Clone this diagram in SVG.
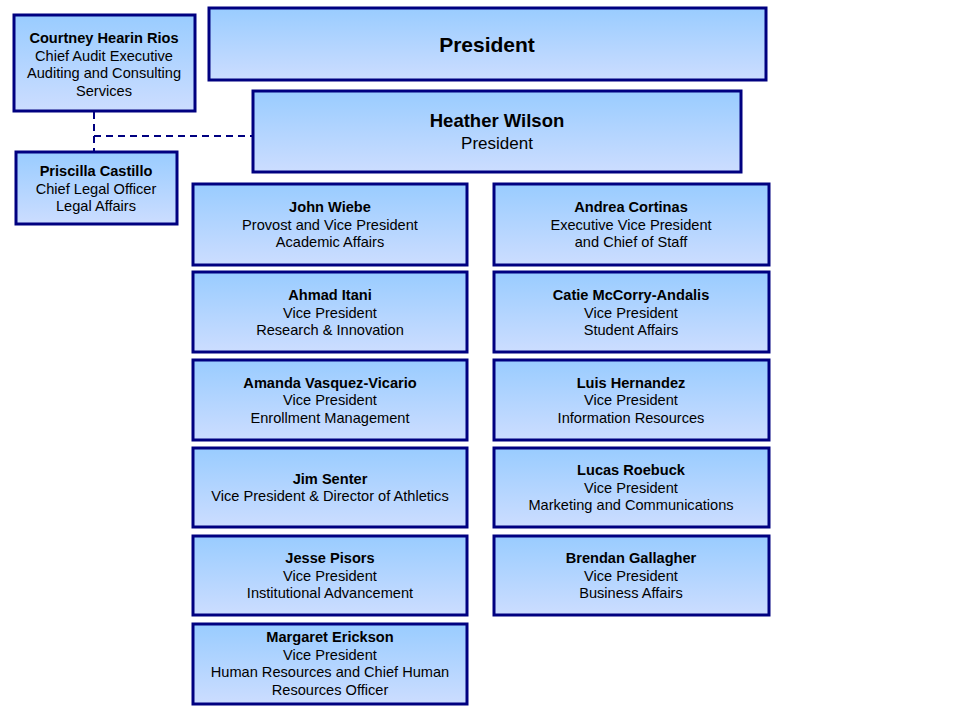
<svg xmlns="http://www.w3.org/2000/svg" width="960" height="720" viewBox="0 0 960 720">
<defs>
<linearGradient id="g" x1="0" y1="0" x2="0" y2="1">
<stop offset="0" stop-color="#99ccff"/>
<stop offset="1" stop-color="#ccddff"/>
</linearGradient>
<style>
.box{fill:url(#g);stroke:#000080;stroke-width:3}
text{font-family:"Liberation Sans",Arial,sans-serif;font-size:14.6px;fill:#000;text-anchor:middle}
.b{font-weight:bold}
.con{stroke:#000080;stroke-width:2;stroke-dasharray:7,5;fill:none}
</style>
</defs>
<rect width="960" height="720" fill="#fff"/>
<g id="connectors">
<path class="con" d="M94 112 V151"/>
<path class="con" d="M94 136 H253"/>
</g>
<g id="president-title">
<rect class="box" x="209" y="8" width="557" height="72"/>
<text x="487" y="52" class="b" style="font-size:21px">President</text>
</g>
<g id="heather-wilson">
<rect class="box" x="253" y="91" width="488" height="81"/>
<text x="497" y="127" class="b" style="font-size:18.5px">Heather Wilson</text>
<text x="497" y="149" style="font-size:17px">President</text>
</g>
<g id="courtney-hearin-rios">
<rect class="box" x="14" y="15" width="181" height="96"/>
<text x="104" y="43" class="b">Courtney Hearin Rios</text>
<text x="104" y="61">Chief Audit Executive</text>
<text x="104" y="78">Auditing and Consulting</text>
<text x="104" y="96">Services</text>
</g>
<g id="priscilla-castillo">
<rect class="box" x="16" y="152" width="161" height="72"/>
<text x="96" y="176" class="b">Priscilla Castillo</text>
<text x="96" y="194">Chief Legal Officer</text>
<text x="96" y="211">Legal Affairs</text>
</g>
<g id="john-wiebe">
<rect class="box" x="193" y="184" width="274" height="81"/>
<text x="330" y="212" class="b">John Wiebe</text>
<text x="330" y="230">Provost and Vice President</text>
<text x="330" y="247">Academic Affairs</text>
</g>
<g id="ahmad-itani">
<rect class="box" x="193" y="272" width="274" height="80"/>
<text x="330" y="300" class="b">Ahmad Itani</text>
<text x="330" y="318">Vice President</text>
<text x="330" y="335">Research &amp; Innovation</text>
</g>
<g id="amanda-vasquez-vicario">
<rect class="box" x="193" y="360" width="274" height="80"/>
<text x="330" y="388" class="b">Amanda Vasquez-Vicario</text>
<text x="330" y="405">Vice President</text>
<text x="330" y="423">Enrollment Management</text>
</g>
<g id="jim-senter">
<rect class="box" x="193" y="448" width="274" height="79"/>
<text x="330" y="484" class="b">Jim Senter</text>
<text x="330" y="501">Vice President &amp; Director of Athletics</text>
</g>
<g id="jesse-pisors">
<rect class="box" x="193" y="536" width="274" height="79"/>
<text x="330" y="563" class="b">Jesse Pisors</text>
<text x="330" y="581">Vice President</text>
<text x="330" y="598">Institutional Advancement</text>
</g>
<g id="margaret-erickson">
<rect class="box" x="193" y="624" width="274" height="80"/>
<text x="330" y="642" class="b">Margaret Erickson</text>
<text x="330" y="660">Vice President</text>
<text x="330" y="677">Human Resources and Chief Human</text>
<text x="330" y="695">Resources Officer</text>
</g>
<g id="andrea-cortinas">
<rect class="box" x="494" y="184" width="275" height="81"/>
<text x="631" y="212" class="b">Andrea Cortinas</text>
<text x="631" y="230">Executive Vice President</text>
<text x="631" y="247">and Chief of Staff</text>
</g>
<g id="catie-mccorry-andalis">
<rect class="box" x="494" y="272" width="275" height="80"/>
<text x="631" y="300" class="b">Catie McCorry-Andalis</text>
<text x="631" y="318">Vice President</text>
<text x="631" y="335">Student Affairs</text>
</g>
<g id="luis-hernandez">
<rect class="box" x="494" y="360" width="275" height="80"/>
<text x="631" y="388" class="b">Luis Hernandez</text>
<text x="631" y="405">Vice President</text>
<text x="631" y="423">Information Resources</text>
</g>
<g id="lucas-roebuck">
<rect class="box" x="494" y="448" width="275" height="79"/>
<text x="631" y="475" class="b">Lucas Roebuck</text>
<text x="631" y="493">Vice President</text>
<text x="631" y="510">Marketing and Communications</text>
</g>
<g id="brendan-gallagher">
<rect class="box" x="494" y="536" width="275" height="79"/>
<text x="631" y="563" class="b">Brendan Gallagher</text>
<text x="631" y="581">Vice President</text>
<text x="631" y="598">Business Affairs</text>
</g>
</svg>
